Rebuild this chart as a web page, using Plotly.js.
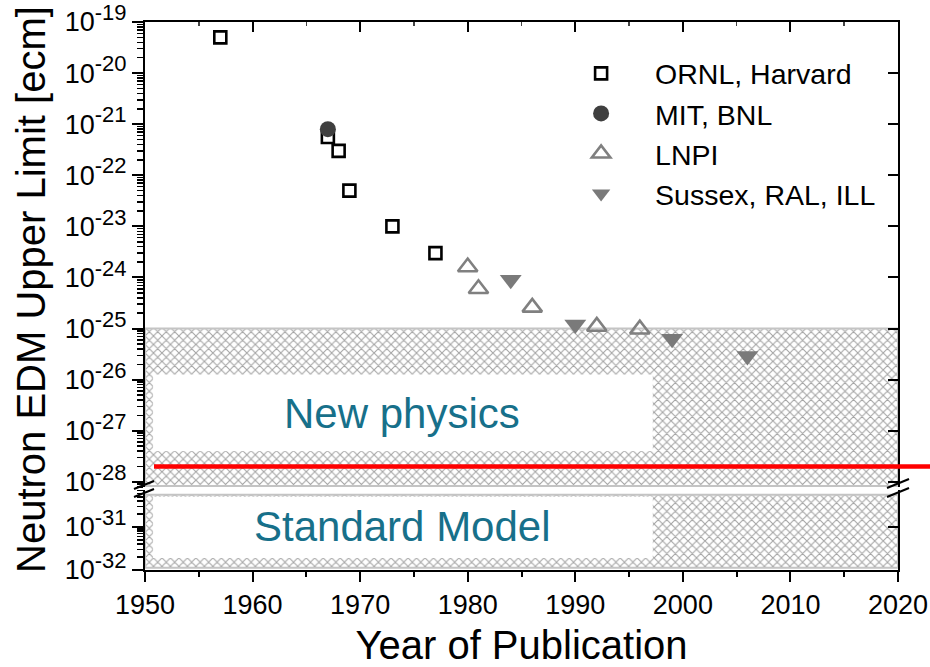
<!DOCTYPE html>
<html>
<head>
<meta charset="utf-8">
<script src="https://cdn.plot.ly/plotly-3.0.1.min.js"></script>
<style>html,body{margin:0;padding:0;background:#fff;}#chart{width:930px;height:667px;}</style>
</head>
<body>
<div id="chart"></div>
<script>
// ---- data ----
const ornlYears   = [1957, 1967, 1968, 1969, 1973, 1977];
const ornlLimits  = [5e-20, 5.6e-22, 3e-22, 5e-23, 1e-23, 3e-24];
const mitYears    = [1967];
const mitLimits   = [8e-22];
const lnpiYears   = [1980, 1981, 1986, 1992, 1996];
const lnpiLimits  = [1.6e-24, 6e-25, 2.6e-25, 1.1e-25, 9.7e-26];
const sussexYears = [1984, 1990, 1999, 2006];
const sussexLimits= [9e-25, 1.2e-25, 6.3e-26, 2.9e-26];

const seriesNames = ["ORNL, Harvard", "MIT, BNL", "LNPI", "Sussex, RAL, ILL"];

// regions / reference lines
const yearRange = [1950, 2020];
const newPhysicsBand = [1e-25, Math.pow(10, -28.08)];       // hatched region (upper panel)
const smBand = [Math.pow(10, -30.25), Math.pow(10, -31.95)]; // hatched region (lower panel)
const labelBoxYears = [1950.75, 1997.2];
const newPhysicsBox = [Math.pow(10, -25.9), Math.pow(10, -27.4)];
const smBox = [Math.pow(10, -30.3), Math.pow(10, -31.72)];
const sensitivityGoal = 2e-28;

// tick labels
const xTicks = [1950, 1960, 1970, 1980, 1990, 2000, 2010, 2020];
const upperTickVals = [1e-19,1e-20,1e-21,1e-22,1e-23,1e-24,1e-25,1e-26,1e-27,1e-28];
const upperExponents = ["-19","-20","-21","-22","-23","-24","-25","-26","-27","-28"];
const lowerTickVals = [1e-31, 1e-32];
const lowerExponents = ["-31","-32"];

function powLabel(e){ return "10<sup><span style='font-size:22px'>" + e + "</span></sup>"; }
const upperTickText = upperExponents.map(powLabel);
const lowerTickText = lowerExponents.map(powLabel);

function minorVals(lo, hi){
  const out=[];
  for(let e=lo;e<hi;e++){ for(let m=2;m<=9;m++){ out.push(m*Math.pow(10,e)); } }
  return out;
}
const upperMinor = minorVals(-29, -19);
const lowerMinor = minorVals(-32, -30);

const FONT = "Liberation Sans, Arial, sans-serif";
const hatch = {shape:"x", fgcolor:"#a4a4a4", bgcolor:"#ffffff", size:6, solidity:0.32};

function rect(xr, yr){
  return {x:[xr[0],xr[1],xr[1],xr[0],xr[0]], y:[yr[0],yr[0],yr[1],yr[1],yr[0]]};
}

const traces = [];
// hatched bands
let r = rect(yearRange, newPhysicsBand);
traces.push({type:"scatter", mode:"lines", x:r.x, y:r.y, xaxis:"x2", yaxis:"y2", fill:"toself",
  fillpattern:hatch, fillcolor:"#ffffff", line:{color:"#c4c4c4", width:2}, hoverinfo:"skip", showlegend:false});
r = rect(yearRange, smBand);
traces.push({type:"scatter", mode:"lines", x:r.x, y:r.y, xaxis:"x", yaxis:"y", fill:"toself",
  fillpattern:hatch, fillcolor:"#ffffff", line:{color:"#c4c4c4", width:2}, hoverinfo:"skip", showlegend:false});
// white label boxes
r = rect(labelBoxYears, newPhysicsBox);
traces.push({type:"scatter", mode:"lines", x:r.x, y:r.y, xaxis:"x2", yaxis:"y2", fill:"toself",
  fillcolor:"#ffffff", line:{color:"#ffffff", width:0}, hoverinfo:"skip", showlegend:false});
r = rect(labelBoxYears, smBox);
traces.push({type:"scatter", mode:"lines", x:r.x, y:r.y, xaxis:"x", yaxis:"y", fill:"toself",
  fillcolor:"#ffffff", line:{color:"#ffffff", width:0}, hoverinfo:"skip", showlegend:false});

// data series
traces.push({type:"scatter", mode:"markers", name:seriesNames[0], x:ornlYears, y:ornlLimits, xaxis:"x2", yaxis:"y2",
  marker:{symbol:"square-open", size:12, color:"#000000", line:{width:2.6, color:"#000000"}}});
traces.push({type:"scatter", mode:"markers", name:seriesNames[1], x:mitYears, y:mitLimits, xaxis:"x2", yaxis:"y2",
  marker:{symbol:"circle", size:16, color:"#3f3f3f"}});
traces.push({type:"scatter", mode:"markers", name:seriesNames[2], x:lnpiYears, y:lnpiLimits, xaxis:"x2", yaxis:"y2",
  marker:{symbol:"triangle-up-open", size:17, color:"#808080", line:{width:2.6, color:"#808080"}}});
traces.push({type:"scatter", mode:"markers", name:seriesNames[3], x:sussexYears, y:sussexLimits, xaxis:"x2", yaxis:"y2",
  marker:{symbol:"triangle-down", size:19, color:"#7a7a7a"}});
// helper traces so the overlay (right-side) axes get drawn
traces.push({type:"scatter", mode:"markers", x:[null], y:[null], xaxis:"x2", yaxis:"y3", showlegend:false, hoverinfo:"skip"});
traces.push({type:"scatter", mode:"markers", x:[null], y:[null], xaxis:"x", yaxis:"y4", showlegend:false, hoverinfo:"skip"});

const upperRange = [-28.1, -19];
const lowerRange = [-32, -30.14];
const upperDomain = [0.1515, 1];
const lowerDomain = [0, 0.146];

const yCommon = {type:"log", showline:true, linecolor:"#000", linewidth:2, showgrid:false, zeroline:false,
  ticks:"outside", ticklen:11, tickwidth:2, tickcolor:"#000", tickmode:"array", ticklabeloverflow:"allow",
  tickfont:{family:FONT, size:27, color:"#000"}};

// break marks (decoration) in paper coordinates
function px2paperX(px){ return (px-145)/753; }
function py2paperY(py){ return (570-py)/548; }
const breakShapes = [];
[[134,489,154,481],[134,497,154,489],[887,488,909,479],[887,497,909,488]].forEach(b=>{
  breakShapes.push({type:"line", xref:"paper", yref:"paper",
    x0:px2paperX(b[0]), y0:py2paperY(b[1]), x1:px2paperX(b[2]), y1:py2paperY(b[3]),
    line:{color:"#000", width:2}, layer:"above"});
});

const layout = {
  width:930, height:667,
  margin:{l:145, r:32, t:22, b:97},
  paper_bgcolor:"#fff", plot_bgcolor:"rgba(0,0,0,0)",
  font:{family:FONT, color:"#000"},
  showlegend:true,
  legend:{x:0.534, y:0.952, xanchor:"left", yanchor:"top", bgcolor:"rgba(0,0,0,0)",
    font:{family:FONT, size:28.5, color:"#000"}, itemwidth:98, tracegroupgap:0},
  xaxis:{domain:[0,1], anchor:"y", range:yearRange, showline:true, linecolor:"#000", linewidth:2,
    showgrid:false, zeroline:false, ticks:"outside", ticklen:10, tickwidth:2, tickcolor:"#000",
    tickmode:"array", tickvals:xTicks, tickfont:{family:FONT, size:27, color:"#000"}, ticklabeloverflow:"allow",
    minor:{dtick:5, tick0:1950, ticks:"outside", ticklen:5, tickwidth:2, tickcolor:"#000", showgrid:false},
    title:{text:"Year of Publication", font:{family:FONT, size:40, color:"#000"}, standoff:16}},
  xaxis2:{domain:[0,1], anchor:"y2", side:"top", range:yearRange, showline:true, linecolor:"#000", linewidth:2,
    showgrid:false, zeroline:false, ticks:"inside", ticklen:10, tickwidth:2, tickcolor:"#000",
    tickmode:"array", tickvals:xTicks, showticklabels:false,
    minor:{dtick:5, tick0:1950, ticks:"inside", ticklen:4, tickwidth:1.5, tickcolor:"#444", showgrid:false}},
  yaxis:Object.assign({}, yCommon, {domain:lowerDomain, anchor:"x", range:lowerRange,
    tickvals:lowerTickVals, ticktext:lowerTickText,
    minor:{tickmode:"array", tickvals:lowerMinor, ticks:"outside", ticklen:6, tickwidth:1.5, tickcolor:"#000", showgrid:false}}),
  yaxis2:Object.assign({}, yCommon, {domain:upperDomain, anchor:"x2", range:upperRange,
    tickvals:upperTickVals, ticktext:upperTickText,
    minor:{tickmode:"array", tickvals:upperMinor, ticks:"outside", ticklen:6, tickwidth:1.5, tickcolor:"#000", showgrid:false}}),
  yaxis3:{type:"log", overlaying:"y2", anchor:"x2", side:"right", range:upperRange, showline:true, linecolor:"#000", linewidth:2,
    showgrid:false, zeroline:false, ticks:"inside", ticklen:10, tickwidth:2, tickcolor:"#000",
    tickmode:"array", tickvals:upperTickVals, showticklabels:false},
  yaxis4:{type:"log", overlaying:"y", anchor:"x", side:"right", range:lowerRange, showline:true, linecolor:"#000", linewidth:2,
    showgrid:false, zeroline:false, ticks:"inside", ticklen:10, tickwidth:2, tickcolor:"#000",
    tickmode:"array", tickvals:lowerTickVals, showticklabels:false},
  shapes:[
    {type:"line", xref:"paper", yref:"y2", x0:px2paperX(154), x1:1.05, y0:sensitivityGoal, y1:sensitivityGoal,
      line:{color:"#ff0000", width:4.5}, layer:"above"}
  ].concat(breakShapes),
  annotations:[
    {xref:"x2", yref:"y2", x:1973.9, y:-26.66, text:"New physics", showarrow:false,
      font:{family:FONT, size:42, color:"#17708a"}},
    {xref:"x", yref:"y", x:1973.9, y:-31.0, text:"Standard Model", showarrow:false,
      font:{family:FONT, size:42, color:"#17708a"}},
    {xref:"paper", yref:"paper", x:px2paperX(31), y:py2paperY(290), xanchor:"center", yanchor:"middle",
      text:"Neutron EDM Upper Limit [ecm]",
      textangle:-90, showarrow:false, font:{family:FONT, size:40, color:"#000"}}
  ]
};

Plotly.newPlot("chart", traces, layout, {staticPlot:true, displayModeBar:false});
</script>
</body>
</html>
